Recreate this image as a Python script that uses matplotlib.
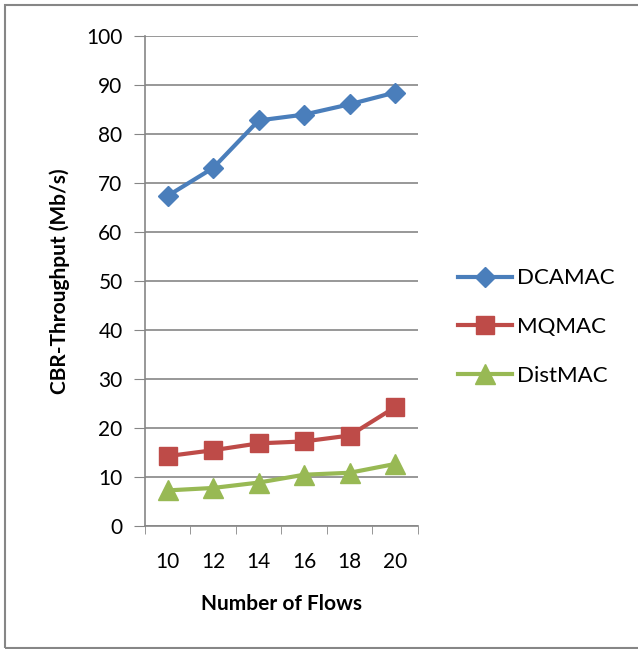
import matplotlib.pyplot as plt
from matplotlib.patches import Rectangle

flows = ['10', '12', '14', '16', '18', '20']
dcamac = [67.3, 73.0, 82.7, 83.9, 86.0, 88.4]
mqmac = [14.2, 15.4, 16.8, 17.2, 18.4, 24.2]
distmac = [7.2, 7.7, 8.8, 10.4, 10.8, 12.6]

plt.rcParams['font.family'] = ['Lato', 'DejaVu Sans']
grey = '#868686'

fig = plt.figure(figsize=(6.38, 6.49), dpi=100)
ax = fig.add_axes([0.227, 0.19, 0.428, 0.755])

x = range(len(flows))
ax.plot(x, dcamac, color='#4A7EBB', lw=3, marker='D', ms=10, label='DCAMAC')
ax.plot(x, mqmac, color='#BE4B48', lw=3, marker='s', ms=13.5, label='MQMAC')
ax.plot(x, distmac, color='#98B954', lw=3, marker='^', ms=14, label='DistMAC')

ax.set_xlim(-0.5, len(flows) - 0.5)
ax.set_ylim(0, 100)
ax.set_yticks(range(0, 101, 10))
ax.set_xticks(list(x))
ax.set_xticklabels(flows)
ax.set_xticks([i - 0.5 for i in range(len(flows) + 1)], minor=True)
ax.tick_params(axis='x', which='major', length=0, pad=19, labelsize=15)
ax.tick_params(axis='x', which='minor', length=6, color=grey, direction='out')
ax.tick_params(axis='y', length=8, color=grey, labelsize=15, pad=8)
ax.grid(axis='y', color=grey, lw=1.2)
ax.set_axisbelow(True)
for s in ['top', 'right']:
    ax.spines[s].set_visible(False)
for s in ['left', 'bottom']:
    ax.spines[s].set_color(grey)
    ax.spines[s].set_linewidth(1.2)

ax.set_xlabel('Number of Flows', fontsize=15, fontweight='bold', labelpad=16)
ax.set_ylabel('CBR-Throughput (Mb/s)', fontsize=15, fontweight='bold', labelpad=12)

ax.legend(loc='center left', bbox_to_anchor=(1.146, 0.405), frameon=False,
          fontsize=16, handlelength=2.45, labelspacing=1.3, handletextpad=0.2,
          borderpad=0, borderaxespad=0)

fig.patches.append(Rectangle((5 / 638, 1 / 649), 640 / 638, 643 / 649,
                             transform=fig.transFigure, fill=False,
                             edgecolor=grey, lw=1.5))

fig.savefig('out.png', dpi=100)
